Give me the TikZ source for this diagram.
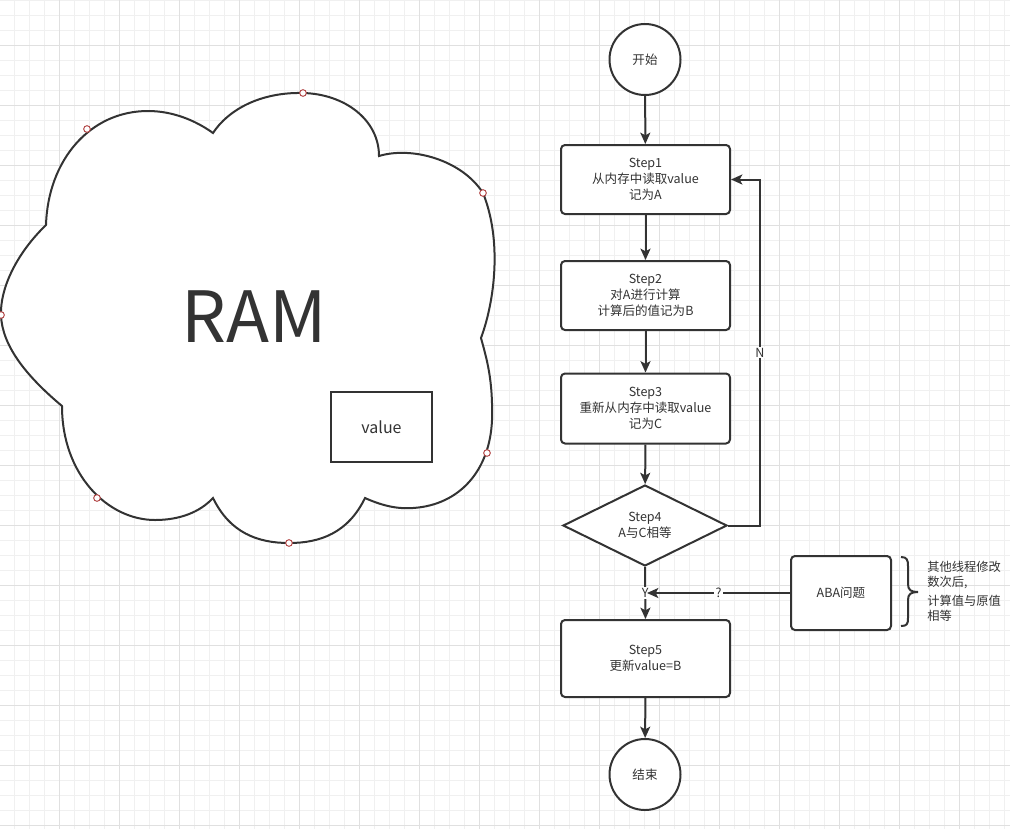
\documentclass[tikz,border=0pt]{standalone}
\usepackage{fontspec}
\setmainfont{Noto Sans CJK SC}
\usetikzlibrary{arrows.meta,shapes.geometric}
\definecolor{ln}{HTML}{333333}
\definecolor{tx}{HTML}{333333}
\definecolor{gmin}{HTML}{F0F0F0}
\definecolor{gmaj}{HTML}{E0E0E0}
\definecolor{ptc}{HTML}{B04040}
\begin{document}
\begin{tikzpicture}[x=0.75pt,y=-0.75pt,
  every node/.style={text=tx},
  txt/.style={font=\fontsize{9.4pt}{12pt}\selectfont,align=center},
  stepbox/.style={txt,draw=ln,line width=1.5pt,fill=white,rounded corners=3pt,
    minimum width=126.75pt,inner sep=0pt},
  termnode/.style={txt,circle,draw=ln,line width=1.5pt,fill=white,minimum size=53.25pt,inner sep=0pt},
  decnode/.style={txt,diamond,draw=ln,line width=1.5pt,fill=white,minimum width=123pt,minimum height=60.75pt,inner sep=0pt},
  flow/.style={draw=ln,line width=1.5pt,-{Stealth[length=8.5pt,width=7.5pt,inset=2pt]}},
  lbl/.style={txt,fill=white,inner sep=1pt},
  cpt/.style={circle,draw=ptc,fill=white,line width=0.7pt,minimum size=5pt,inner sep=0pt}]
\useasboundingbox (0,0) rectangle (1010,829);
% grid
\foreach \x in {14,29,...,1010} \draw[gmin,line width=0.75pt] (\x,0) -- (\x,829);
\foreach \y in {0,15,...,829} \draw[gmin,line width=0.75pt] (0,\y) -- (1010,\y);
\foreach \x in {59,119,...,1010} \draw[gmaj,line width=0.75pt] (\x,0) -- (\x,829);
\foreach \y in {45,105,...,829} \draw[gmaj,line width=0.75pt] (0,\y) -- (1010,\y);
% cloud
\draw[ln,line width=1.5pt,fill=white,line join=miter]
  (46,225) .. controls (15,255) and (0,290) .. (1,315)
  .. controls (2,345) and (25,375) .. (62,406)
  .. controls (62,475) and (108,520) .. (155,520)
  .. controls (180,520) and (200,512) .. (213,498)
  .. controls (230,533) and (258,543) .. (289,543)
  .. controls (320,543) and (348,533) .. (365,498)
  .. controls (385,507) and (400,509) .. (413,508)
  .. controls (460,505) and (490,470) .. (492,420)
  .. controls (493,380) and (487,360) .. (481,338)
  .. controls (495,300) and (502,240) .. (483,193)
  .. controls (462,160) and (412,146) .. (379,156)
  .. controls (379,120) and (345,94) .. (303,93)
  .. controls (260,92) and (228,110) .. (213,133)
  .. controls (195,120) and (172,111) .. (148,111)
  .. controls (90,111) and (48,160) .. (46,225) -- cycle;
\foreach \p [count=\i] in {(87,129),(303,93),(483,193),(1,315),(487,453),(97,498),(289,543)}
  \node[cpt] (cp\i) at \p {};
\node[font=\fontsize{53pt}{53pt}\selectfont] (ram) at (254,317) {RAM};
\node[draw=ln,line width=1.5pt,fill=white,minimum width=75.75pt,minimum height=52.5pt,inner sep=0pt,
  font=\fontsize{12pt}{14pt}\selectfont] (val) at (381.5,427) {value};
% flowchart
\node[termnode] (start) at (645,59.5) {开始};
\node[stepbox,minimum height=51.75pt] (s1) at (645.5,179.5) {Step1\\从内存中读取value\\记为A};
\node[stepbox,minimum height=51.75pt] (s2) at (645.5,295.5) {Step2\\对A进行计算\\计算后的值记为B};
\node[stepbox,minimum height=52.5pt] (s3) at (645.5,408.5) {Step3\\重新从内存中读取value\\记为C};
\node[decnode] (s4) at (645,525.5) {Step4\\A与C相等};
\node[stepbox,minimum height=57.75pt] (s5) at (645.5,658.5) {Step5\\更新value=B};
\node[termnode] (end) at (645,774.5) {结束};
\node[stepbox,minimum width=75pt,minimum height=55.5pt] (aba) at (841,593) {ABA问题};
\coordinate (loop) at (760,525.5);
\coordinate (qend) at (647,593);
\draw[flow] (start) -- (s1);
\draw[flow] (s1) -- (s2);
\draw[flow] (s2) -- (s3);
\draw[flow] (s3) -- (s4);
\draw[flow] (s4.east) -- (loop) |- node[lbl,pos=0.25] {N} (s1.east);
\draw[flow] (s4.south) -- node[lbl,pos=0.5] {Y} (s5.north);
\draw[flow] (aba.west) -- node[lbl,pos=0.5] {?} (qend);
\draw[flow] (s5) -- (end);
% brace and note
\draw[ln,line width=1.5pt] (901,557) .. controls (907,557) and (908,560) .. (908,566) -- (908,584)
  .. controls (908,590) and (911,592) .. (918,592) .. controls (911,592) and (908,594) .. (908,600)
  -- (908,618) .. controls (908,624) and (907,626) .. (901,626);
\node[txt,align=left,anchor=north west,inner sep=0pt,font=\fontsize{9.2pt}{11.25pt}\selectfont] (note) at (927,561)
  {其他线程修改\\数次后,\\[3pt]计算值与原值\\相等};
\end{tikzpicture}
\end{document}
